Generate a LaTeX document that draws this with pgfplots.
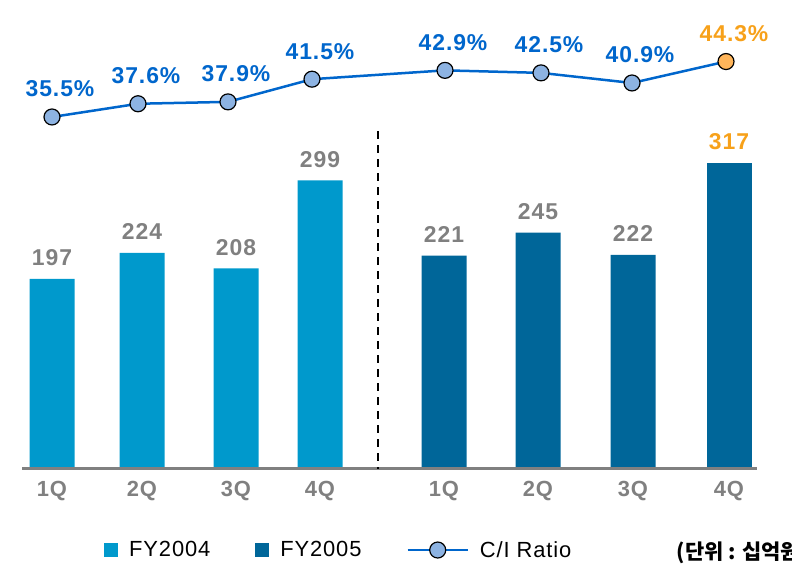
\documentclass[border=0pt]{standalone}
\usepackage{pgfplots}
\pgfplotsset{compat=1.18}
\usepackage{fontspec}
\setmainfont{Liberation Sans}
\newfontfamily\lbl[LetterSpace=4]{Liberation Sans}
\newfontfamily\krfont{Noto Sans CJK KR}

\definecolor{c04}{HTML}{0099CC}
\definecolor{c05}{HTML}{006699}
\definecolor{lineblue}{HTML}{0066CC}
\definecolor{orng}{HTML}{F7A11A}
\definecolor{mkblue}{HTML}{8DB3E2}
\definecolor{mkorng}{HTML}{FFB55A}
\definecolor{txtgray}{HTML}{808080}

\pgfplotsset{
  sqlegend/.style={legend image code/.code={\fill[##1] (0bp,-7bp) rectangle (14bp,7bp);}},
  linelegend/.style={legend image code/.code={\draw[mark repeat=2,mark phase=2,##1] plot coordinates {(0bp,0bp) (30bp,0bp) (60bp,0bp)};}},
}

\begin{document}
\begin{tikzpicture}
% bars, x in pixel-like units
\begin{axis}[
    scale only axis,
    width=792bp, height=565bp,
    xmin=0, xmax=792,
    ymin=-99.5, ymax=486,
    axis line style={draw=none},
    major tick length=0pt,
    ytick=\empty,
    /pgf/number format/assume math mode=true,
    xtick={52,142,236,320,444,538,633,729},
    xticklabels={1Q,2Q,3Q,4Q,1Q,2Q,3Q,4Q},
    xticklabel style={anchor=center, yshift=74bp, font=\fontsize{22}{26}\selectfont\lbl\bfseries, text=txtgray},
    ybar, bar width=45, bar shift=0pt,
    nodes near coords,
    nodes near coords style={anchor=center, yshift=21bp, font=\fontsize{23}{26}\selectfont\lbl\bfseries, text=txtgray},
]
\addplot[fill=c04, draw=none] coordinates {(52,197) (142,224) (236,208) (320,299)};
\addplot[fill=c05, draw=none] coordinates {(444,221) (538,245) (633,222)};
\addplot[fill=c05, draw=none, nodes near coords style={text=orng}] coordinates {(729,317)};

\draw[txtgray, line width=3bp] (axis cs:22,0) -- (axis cs:757,0);
\draw[black, line width=2.5bp, dash pattern=on 8bp off 6bp] (axis cs:378,350) -- (axis cs:378,0);
\end{axis}

% C/I ratio line
\begin{axis}[
    scale only axis,
    width=792bp, height=565bp,
    xmin=0, xmax=792,
    ymin=-35.61, ymax=54.07,
    hide axis,
    /pgf/number format/assume math mode=true,
    legend columns=3,
    legend style={at={(0.1313,0.0265)}, anchor=west, draw=none, fill=none,
        inner sep=0pt, font=\fontsize{22}{26}\selectfont\lbl,
        /tikz/every odd column/.append style={column sep=9bp},
        /tikz/every even column/.append style={column sep=43bp}},
    nodes near coords={\pgfmathprintnumber[fixed,precision=1,fixed zerofill]{\pgfplotspointmeta}\%},
    nodes near coords style={anchor=center, yshift=28bp, xshift=8bp, font=\fontsize{23}{26}\selectfont\lbl\bfseries},
]
\addlegendimage{fill=c04, draw=none, sqlegend}
\addlegendentry{FY2004}
\addlegendimage{fill=c05, draw=none, sqlegend}
\addlegendentry{FY2005}
\addplot[lineblue, line width=2.5bp, mark=*, mark size=8bp,
    mark options={draw=black, fill=mkblue, line width=1.2bp},
    nodes near coords style={text=lineblue}, linelegend]
    coordinates {(52,35.5) (138,37.6) (228,37.9) (312,41.5) (445,42.9) (541,42.5) (632,40.9)};
\addlegendentry{C/I Ratio}
\addplot[lineblue, line width=2.5bp, forget plot, nodes near coords=\empty] coordinates {(632,40.9) (726,44.3)};
\addplot[only marks, mark=*, mark size=8bp, forget plot,
    mark options={draw=black, fill=mkorng, line width=1.2bp},
    nodes near coords style={text=orng}]
    coordinates {(726,44.3)};
\node[anchor=west, font=\fontsize{21}{25}\selectfont\krfont\bfseries] at (axis description cs:0.850,0.0210) {(단위 : 십억원)};
\end{axis}
\pgfresetboundingbox
\path[use as bounding box] (current axis.south west) rectangle (current axis.north east);
\end{tikzpicture}
\end{document}
